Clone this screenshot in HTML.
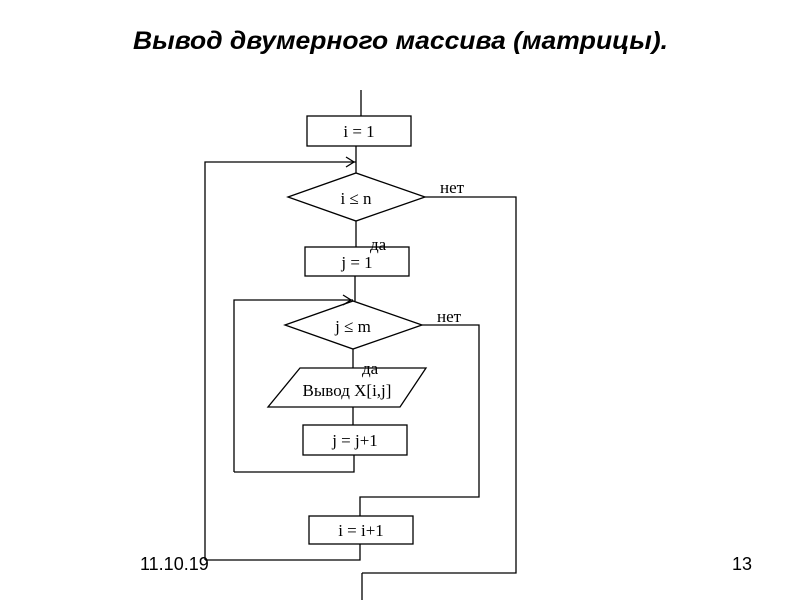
<!DOCTYPE html>
<html><head><meta charset="utf-8"><style>
html,body{margin:0;padding:0;background:#fff;}
svg{display:block;}
</style></head><body>
<svg width="800" height="600" viewBox="0 0 800 600" xmlns="http://www.w3.org/2000/svg">
<text x="133" y="49" font-family="Liberation Sans, sans-serif" font-weight="bold" font-style="italic" font-size="25" textLength="535" lengthAdjust="spacingAndGlyphs">Вывод двумерного массива (матрицы).</text>
<g stroke="#000" stroke-width="1.3" fill="none">
<line x1="361" y1="90" x2="361" y2="116"/>
<rect x="307" y="116" width="104" height="30"/>
<line x1="356" y1="146" x2="356" y2="173"/>
<polyline points="205,560 205,162 356,162"/>
<polyline points="346,157 354,162 346,167"/>
<polygon points="288,197 356,173 425,197 356,221"/>
<polyline points="425,197 516,197 516,573 362,573"/>
<line x1="362" y1="573" x2="362" y2="600"/>
<line x1="356" y1="221" x2="356" y2="247"/>
<rect x="305" y="247" width="104" height="29"/>
<line x1="355" y1="276" x2="355" y2="301"/>
<polyline points="234,472 234,300 353,300"/>
<polyline points="343,295 351,300 343,305"/>
<polygon points="285,325 353,301 422,325 353,349"/>
<polyline points="422,325 479,325 479,497 360,497 360,516"/>
<line x1="353" y1="349" x2="353" y2="368"/>
<polygon points="300,368 426,368 400,407 268,407"/>
<line x1="353" y1="407" x2="353" y2="425"/>
<rect x="303" y="425" width="104" height="30"/>
<polyline points="354,455 354,472 234,472"/>
<rect x="309" y="516" width="104" height="28"/>
<polyline points="360,544 360,560 205,560"/>
</g>
<g font-family="Liberation Serif, serif" font-size="17" fill="#000">
<text x="359" y="137" text-anchor="middle">i = 1</text>
<text x="356" y="204" text-anchor="middle">i ≤ n</text>
<text x="357" y="268" text-anchor="middle">j = 1</text>
<text x="353" y="332" text-anchor="middle">j ≤ m</text>
<text x="347" y="396" text-anchor="middle">Вывод X[i,j]</text>
<text x="355" y="446" text-anchor="middle">j = j+1</text>
<text x="361" y="536" text-anchor="middle">i = i+1</text>
<text x="440" y="193">нет</text>
<text x="437" y="322">нет</text>
<text x="370" y="250">да</text>
<text x="362" y="374">да</text>
</g>
<g font-family="Liberation Sans, sans-serif" font-size="18" fill="#000">
<text x="140" y="570">11.10.19</text>
<text x="732" y="570">13</text>
</g>
</svg>
</body></html>
